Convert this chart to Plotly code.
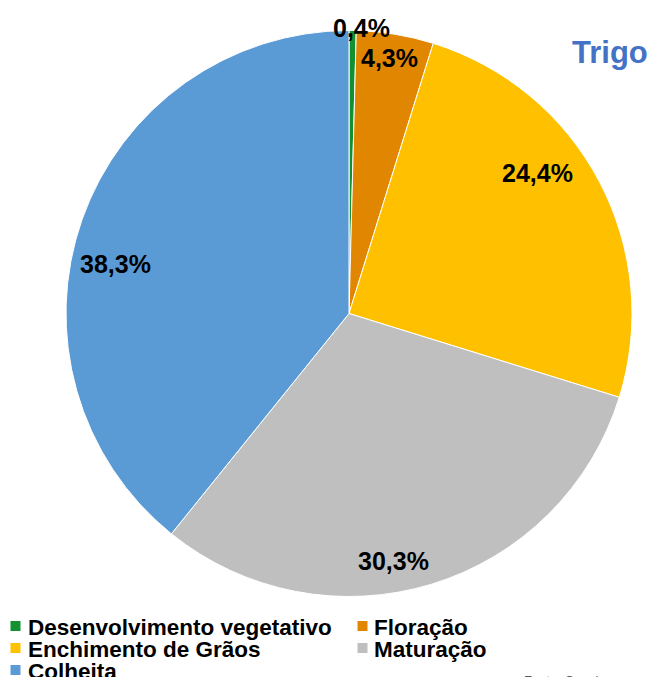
import math
import plotly.graph_objects as go

# ---- data ----
categories = ["Desenvolvimento vegetativo", "Floração", "Enchimento de Grãos", "Maturação", "Colheita"]
values = [0.4, 4.3, 24.4, 30.3, 38.3]
value_labels = ["0,4%", "4,3%", "24,4%", "30,3%", "38,3%"]
title_text = "Trigo"
source_text = "Fonte: Conab"

# ---- style ----
colors = ["#119130", "#E08600", "#FFC000", "#BFBFBF", "#5B9BD5"]
W, H = 651, 677
CX, CY, R = 349, 313.5, 283
label_radius = [1.01, 0.915, 0.832, 0.889, 0.845]
label_angle_shift = [1.7, -0.3, -8.9, 6.7, -7.5]
FONT = "Liberation Sans, Arial, sans-serif"

def px_x(x):
    return x / W

def px_y(y):
    return 1 - y / H

fig = go.Figure(go.Pie(
    labels=categories,
    values=values,
    sort=False,
    direction="clockwise",
    rotation=0,
    textinfo="none",
    marker=dict(colors=colors, line=dict(color="white", width=1)),
    domain=dict(x=[px_x(CX - R), px_x(CX + R)], y=[px_y(CY + R), px_y(CY - R)]),
    showlegend=False,
))

annotations = []
total = sum(values)
cum = 0.0
for i, v in enumerate(values):
    mid = (cum + v / 2) / total * 360 + label_angle_shift[i]
    cum += v
    r = label_radius[i] * R
    x = CX + r * math.sin(math.radians(mid))
    y = CY - r * math.cos(math.radians(mid))
    annotations.append(dict(
        x=px_x(x), y=px_y(y), xref="paper", yref="paper",
        text=f"<b>{value_labels[i]}</b>", showarrow=False,
        xanchor="center", yanchor="middle",
        font=dict(family=FONT, size=25, color="black"),
    ))

# title
annotations.append(dict(
    x=px_x(650), y=px_y(52), xref="paper", yref="paper",
    text=f"<b>{title_text}</b>", showarrow=False,
    xanchor="right", yanchor="middle",
    font=dict(family=FONT, size=31, color="#4472C4"),
))

# source
annotations.append(dict(
    x=px_x(605), y=px_y(671), xref="paper", yref="paper",
    text=source_text, showarrow=False,
    xanchor="right", yanchor="top",
    font=dict(family=FONT, size=13, color="#595959"),
))

# manual legend
shapes = []
col_sq_x = [10.5, 357.5]
col_txt_x = [26, 372]
row_y = [626, 648, 670]
for i, cat in enumerate(categories):
    col, row = i % 2, i // 2
    sx, sy = col_sq_x[col], row_y[row]
    shapes.append(dict(
        type="rect", xref="paper", yref="paper",
        x0=px_x(sx), x1=px_x(sx + 10), y0=px_y(sy + 5), y1=px_y(sy - 5),
        fillcolor=colors[i], line=dict(width=0),
    ))
    annotations.append(dict(
        x=px_x(col_txt_x[col]), y=px_y(sy + 1), xref="paper", yref="paper",
        text=f"<b>{cat}</b>", showarrow=False,
        xanchor="left", yanchor="middle",
        font=dict(family=FONT, size=22.5, color="black"),
    ))

fig.update_layout(
    width=W, height=H,
    margin=dict(l=0, r=0, t=0, b=0),
    paper_bgcolor="white", plot_bgcolor="white",
    annotations=annotations, shapes=shapes,
)

fig.write_html(
    "out.html",
    config={"displayModeBar": False},
    post_script="document.body.style.margin='0';document.body.style.overflow='hidden';",
)
